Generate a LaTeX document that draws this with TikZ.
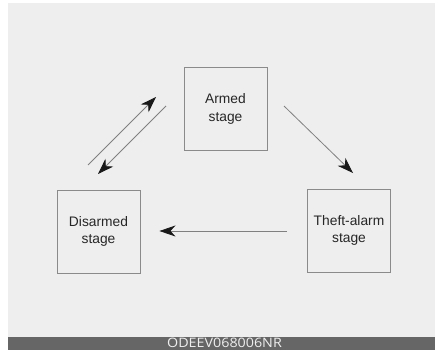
\documentclass[tikz,border=0pt]{standalone}
\usepackage{fontspec}
\setmainfont{Liberation Sans}
\newfontfamily\barfont{Open Sans}
\usetikzlibrary{arrows.meta}
\definecolor{bg}{HTML}{EEEEEE}
\definecolor{barc}{HTML}{666666}
\definecolor{edge}{HTML}{8A8A8A}
\definecolor{linec}{HTML}{808080}
\tikzset{
  stagebox/.style={draw=edge, line width=0.9pt, minimum width=83pt, minimum height=83pt,
    inner sep=0pt, align=center, font=\fontsize{13.8}{17.3}\selectfont, text=black!85},
  arr/.style={draw=linec, line width=0.8pt, -{Stealth[length=16pt, width=11pt, inset=5pt, color=black!90]}}
}
\begin{document}
\begin{tikzpicture}[x=1pt, y=-1pt]
\useasboundingbox (0,0) rectangle (435,350);
\fill[white] (0,0) rectangle (435,350);
\fill[bg] (8,3) rectangle (435,337);
\fill[barc] (8,337) rectangle (435,350);
\node[text=bg, inner sep=0pt, xscale=1.1, font=\barfont\fontsize{13}{13}\selectfont] (code) at (224.5,343.3) {ODEEV068006NR};
\node[stagebox] (armed) at (225.5,109) {Armed\\stage};
\node[stagebox] (dis) at (98.5,231.5) {Disarmed\\stage};
\node[stagebox] (theft) at (349,230.5) {Theft-alarm\\stage};
\coordinate (a1s) at (88,165);
\coordinate (a1e) at (156,97);
\coordinate (a2s) at (166,106);
\coordinate (a2e) at (98,174);
\coordinate (a3s) at (284,106);
\coordinate (a3e) at (353,173);
\draw[arr] (a1s) -- (a1e);
\draw[arr] (a2s) -- (a2e);
\draw[arr] (a3s) -- (a3e);
\draw[arr, shorten <=20pt, shorten >=19pt] (theft.west |- 0,231) -- (dis.east |- 0,231);
\end{tikzpicture}
\end{document}
